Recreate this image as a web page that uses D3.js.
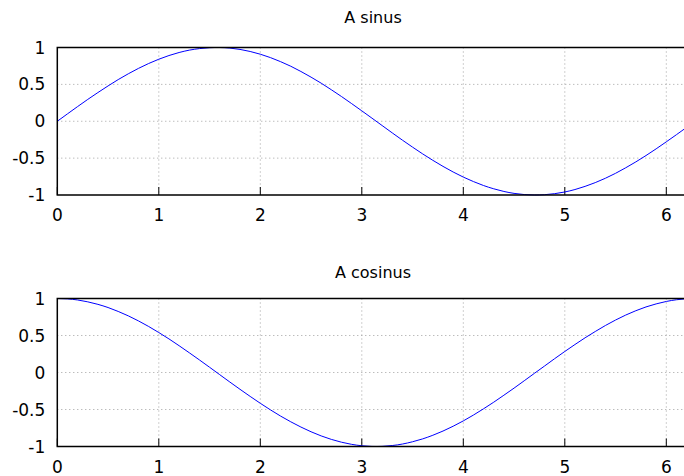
<!DOCTYPE html>
<html>
<head>
<meta charset="utf-8">
<script src="https://cdn.jsdelivr.net/npm/d3@7"></script>
<style>
  html, body { margin: 0; padding: 0; background: #fff; }
  svg { display: block; }
  text { font-family: "DejaVu Sans", sans-serif; fill: #000; }
</style>
</head>
<body>
<svg id="chart" width="684" height="476"></svg>
<script>
const titles = ["A sinus", "A cosinus"];
const xValues = [0.0,0.1,0.2,0.3,0.4,0.5,0.6,0.7,0.8,0.9,1.0,1.1,1.2,1.3,1.4,1.5,1.6,1.7,1.8,1.9,2.0,2.1,2.2,2.3,2.4,2.5,2.6,2.7,2.8,2.9,3.0,3.1,3.2,3.3,3.4,3.5,3.6,3.7,3.8,3.9,4.0,4.1,4.2,4.3,4.4,4.5,4.6,4.7,4.8,4.9,5.0,5.1,5.2,5.3,5.4,5.5,5.6,5.7,5.8,5.9,6.0,6.1,6.2];
const sinValues = [0.000,0.100,0.199,0.296,0.389,0.479,0.565,0.644,0.717,0.783,0.841,0.891,0.932,0.964,0.985,0.997,1.000,0.992,0.974,0.946,0.909,0.863,0.808,0.746,0.675,0.598,0.516,0.427,0.335,0.239,0.141,0.042,-0.058,-0.158,-0.256,-0.351,-0.443,-0.530,-0.612,-0.688,-0.757,-0.818,-0.872,-0.916,-0.952,-0.978,-0.994,-1.000,-0.996,-0.982,-0.959,-0.926,-0.883,-0.832,-0.773,-0.706,-0.631,-0.551,-0.465,-0.374,-0.279,-0.182,-0.083];
const cosValues = [1.000,0.995,0.980,0.955,0.921,0.878,0.825,0.765,0.697,0.622,0.540,0.454,0.362,0.267,0.170,0.071,-0.029,-0.129,-0.227,-0.323,-0.416,-0.505,-0.589,-0.666,-0.737,-0.801,-0.857,-0.904,-0.942,-0.971,-0.990,-0.999,-0.998,-0.987,-0.967,-0.936,-0.897,-0.848,-0.791,-0.726,-0.654,-0.575,-0.490,-0.401,-0.307,-0.211,-0.112,-0.012,0.087,0.187,0.284,0.378,0.469,0.554,0.635,0.709,0.776,0.835,0.886,0.927,0.960,0.983,0.997];
const xTicks = [0, 1, 2, 3, 4, 5, 6];
const yTicks = [-1, -0.5, 0, 0.5, 1];
const yTickLabels = ["-1", "-0.5", "0", "0.5", "1"];

const svg = d3.select("#chart");
const left = 57.3, right = 686.6;
const x = d3.scaleLinear().domain([0, 6.2]).range([left, right]);

const panels = [
  { title: titles[0], values: sinValues, top: 47.5, bottom: 195, titleY: 23 },
  { title: titles[1], values: cosValues, top: 298.5, bottom: 446.5, titleY: 278 }
];

const fs = 17, tfs = 16;

panels.forEach(p => {
  const y = d3.scaleLinear().domain([-1, 1]).range([p.bottom, p.top]);
  const g = svg.append("g");

  // grid
  g.append("g").selectAll("line").data(xTicks.filter(t => t > 0)).join("line")
    .attr("x1", d => x(d)).attr("x2", d => x(d))
    .attr("y1", p.top).attr("y2", p.bottom)
    .attr("stroke", "#a0a0a0").attr("stroke-width", 1)
    .attr("stroke-dasharray", "1,3");
  g.append("g").selectAll("line").data(yTicks.filter(t => t > -1 && t < 1)).join("line")
    .attr("x1", left).attr("x2", right)
    .attr("y1", d => y(d)).attr("y2", d => y(d))
    .attr("stroke", "#a0a0a0").attr("stroke-width", 1)
    .attr("stroke-dasharray", "1,3");

  // x ticks (inward)
  g.append("g").selectAll("line").data(xTicks).join("line")
    .attr("x1", d => x(d)).attr("x2", d => x(d))
    .attr("y1", p.bottom).attr("y2", p.bottom - 8)
    .attr("stroke", "#000").attr("stroke-width", 1);

  // curve
  const line = d3.line().curve(d3.curveNatural).x((d, i) => x(xValues[i])).y(d => y(d));
  g.append("path").datum(p.values)
    .attr("d", line).attr("fill", "none")
    .attr("stroke", "#0000ff").attr("stroke-width", 1);

  // border
  g.append("path")
    .attr("d", `M${right},${p.top}H${left}V${p.bottom}H${right}V${p.top}`)
    .attr("fill", "none").attr("stroke", "#000").attr("stroke-width", 1.5);

  // tick labels
  g.append("g").selectAll("text").data(xTicks).join("text")
    .attr("x", d => x(d)).attr("y", p.bottom + 26)
    .attr("text-anchor", "middle").attr("font-size", fs)
    .text(d => d);
  g.append("g").selectAll("text").data(yTicks).join("text")
    .attr("x", left - 12).attr("y", d => y(d) + 6)
    .attr("text-anchor", "end").attr("font-size", fs)
    .text((d, i) => yTickLabels[i]);

  g.append("text").attr("x", 373).attr("y", p.titleY)
    .attr("text-anchor", "middle").attr("font-size", tfs)
    .text(p.title);
});
</script>
</body>
</html>
